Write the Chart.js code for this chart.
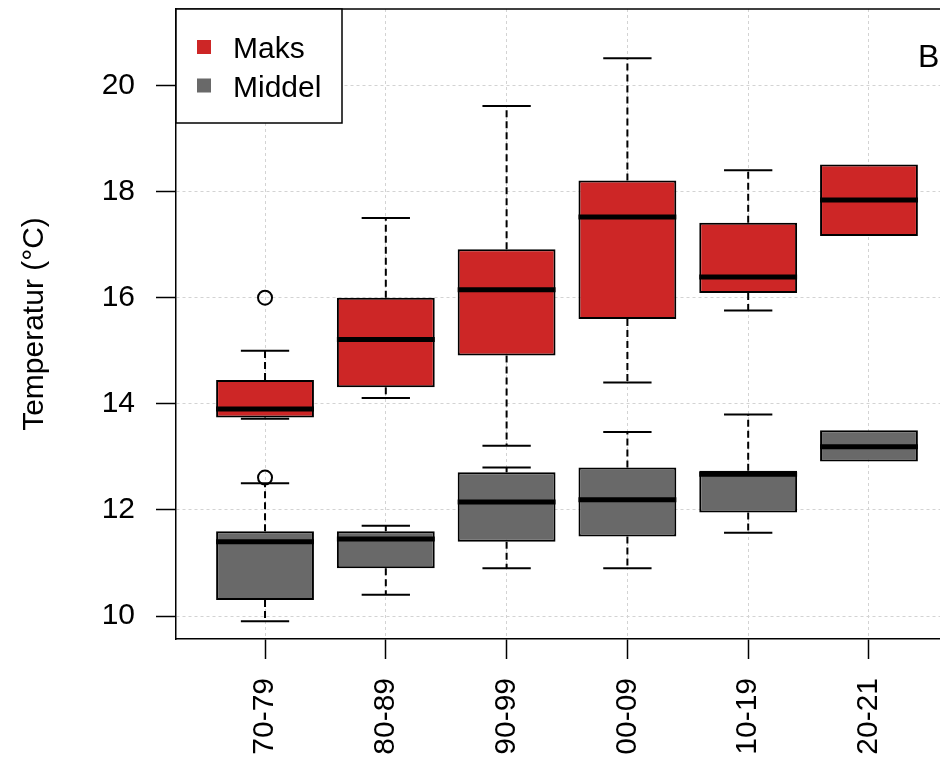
<!DOCTYPE html>
<html>
<head>
<meta charset="utf-8">
<script src="https://cdn.jsdelivr.net/npm/chart.js@4.4.1/dist/chart.umd.min.js"></script>
<style>
  html, body { margin: 0; padding: 0; background: #fff; }
  canvas { display: block; }
</style>
</head>
<body>
<canvas id="chart" width="940" height="761"></canvas>
<script>
const periods = ['70-79', '80-89', '90-99', '00-09', '10-19', '20-21'];

// box stats per period: lower whisker, Q1, median, Q3, upper whisker
const maksLow  = [13.72, 14.11, 13.21, 14.40, 15.76, 17.16];
const maksQ1   = [13.74, 14.31, 14.91, 15.60, 16.09, 17.16];
const maksMed  = [13.90, 15.21, 16.15, 17.52, 16.39, 17.84];
const maksQ3   = [14.45, 16.00, 16.91, 18.21, 17.41, 18.51];
const maksHigh = [15.00, 17.50, 19.61, 20.51, 18.40, 18.51];

const middelLow  = [9.90, 10.40, 10.90, 10.90, 11.57, 12.91];
const middelQ1   = [10.30, 10.90, 11.40, 11.50, 11.95, 12.91];
const middelMed  = [11.40, 11.45, 12.15, 12.19, 12.67, 13.19];
const middelQ3   = [11.60, 11.60, 12.71, 12.80, 12.74, 13.50];
const middelHigh = [12.50, 11.70, 12.80, 13.47, 13.80, 13.50];

// outliers (period index, value)
const outlierPeriod = [0, 0];
const outlierValue  = [16.00, 12.61];

const yTicks = [10, 12, 14, 16, 18, 20];

const RED = '#CD2626';
const GREY = '#696969';
const BOX_WIDTH = 0.81;   // in category units
const CAP_WIDTH = 0.4;

Chart.defaults.font.family = '"Liberation Sans", Arial, Helvetica, sans-serif';
Chart.defaults.font.size = 30;
Chart.defaults.color = '#000';

function boxData(q1, q3) {
    return periods.map((p, i) => ({ x: i + 1, y: [q1[i], q3[i]] }));
}

const series = [
    { label: 'Maks', color: RED, low: maksLow, q1: maksQ1, med: maksMed, q3: maksQ3, high: maksHigh },
    { label: 'Middel', color: GREY, low: middelLow, q1: middelQ1, med: middelMed, q3: middelQ3, high: middelHigh }
];

// whiskers, caps and medians, placed with the chart's scales
const boxExtras = {
    id: 'boxExtras',
    afterDatasetsDraw(chart) {
        const { ctx, scales: { x, y } } = chart;
        ctx.save();
        ctx.strokeStyle = '#000';
        series.forEach(s => {
            periods.forEach((p, i) => {
                const cx = x.getPixelForValue(i + 1);
                const capL = x.getPixelForValue(i + 1 - CAP_WIDTH / 2);
                const capR = x.getPixelForValue(i + 1 + CAP_WIDTH / 2);
                const pairs = [[s.q3[i], s.high[i]], [s.q1[i], s.low[i]]];
                pairs.forEach(([from, to]) => {
                    if (from === to) return;
                    ctx.lineWidth = 2;
                    ctx.setLineDash([7, 4]);
                    ctx.beginPath();
                    ctx.moveTo(cx, y.getPixelForValue(from));
                    ctx.lineTo(cx, y.getPixelForValue(to));
                    ctx.stroke();
                    ctx.setLineDash([]);
                    ctx.beginPath();
                    ctx.moveTo(capL, y.getPixelForValue(to));
                    ctx.lineTo(capR, y.getPixelForValue(to));
                    ctx.stroke();
                });
                // median
                ctx.lineWidth = 5;
                ctx.setLineDash([]);
                ctx.beginPath();
                ctx.moveTo(x.getPixelForValue(i + 1 - BOX_WIDTH / 2), y.getPixelForValue(s.med[i]));
                ctx.lineTo(x.getPixelForValue(i + 1 + BOX_WIDTH / 2), y.getPixelForValue(s.med[i]));
                ctx.stroke();
            });
        });
        ctx.restore();
    }
};

// frame top line, legend box and panel letter
const frameAndLegend = {
    id: 'frameAndLegend',
    afterDraw(chart) {
        const { ctx, chartArea: a } = chart;
        ctx.save();
        ctx.strokeStyle = '#000';
        ctx.lineWidth = 1.5;
        ctx.beginPath();
        ctx.moveTo(a.left, a.top);
        ctx.lineTo(a.right, a.top);
        ctx.stroke();

        // legend
        ctx.fillStyle = '#fff';
        ctx.fillRect(a.left, a.top, 166, 114);
        ctx.strokeRect(a.left, a.top, 166, 114);
        ctx.font = '30px "Liberation Sans", Arial, sans-serif';
        ctx.textBaseline = 'alphabetic';
        series.forEach((s, k) => {
            const cy = a.top + 38 + k * 38.5;
            ctx.fillStyle = s.color;
            ctx.fillRect(a.left + 21, cy - 7, 14, 14);
            ctx.fillStyle = '#000';
            ctx.fillText(s.label, a.left + 57, cy + 11);
        });

        ctx.font = '32px "Liberation Sans", Arial, sans-serif';
        ctx.fillText('B', 918, a.top + 58);
        ctx.restore();
    }
};

new Chart(document.getElementById('chart'), {
    type: 'bar',
    data: {
        datasets: [
            ...series.map(s => ({
                label: s.label,
                data: boxData(s.q1, s.q3),
                backgroundColor: s.color,
                borderColor: '#000',
                borderWidth: 2,
                borderSkipped: false,
                grouped: false,
                categoryPercentage: 1,
                barPercentage: BOX_WIDTH
            })),
            {
                type: 'scatter',
                label: 'outliers',
                data: outlierValue.map((v, k) => ({ x: outlierPeriod[k] + 1, y: v })),
                pointRadius: 7,
                pointHoverRadius: 7,
                borderWidth: 2,
                borderColor: '#000',
                backgroundColor: 'rgba(0,0,0,0)'
            }
        ]
    },
    options: {
        responsive: false,
        animation: false,
        layout: { autoPadding: false, padding: { top: 9, right: 0, left: 0, bottom: 0 } },
        plugins: {
            legend: { display: false },
            tooltip: { enabled: false }
        },
        scales: {
            x: {
                type: 'linear',
                min: 0.263,
                max: 6.588,
                offset: false,
                afterBuildTicks: scale => {
                    scale.ticks = periods.map((p, i) => ({ value: i + 1 }));
                },
                afterFit: scale => {
                    scale.height = 122;
                    scale.paddingLeft = 0;
                    scale.paddingRight = 0;
                },
                ticks: {
                    minRotation: 90,
                    maxRotation: 90,
                    padding: 19,
                    autoSkip: false,
                    callback: v => periods[v - 1]
                },
                grid: {
                    offset: false,
                    color: '#d3d3d3',
                    lineWidth: 1,
                    tickLength: 20,
                    tickColor: '#000',
                    tickWidth: 1.5,
                    tickBorderDash: []
                },
                border: { color: '#000', width: 1.5, dash: [3, 3] }
            },
            y: {
                min: 9.567,
                max: 21.44,
                afterBuildTicks: scale => {
                    scale.ticks = yTicks.map(v => ({ value: v }));
                },
                afterFit: scale => {
                    scale.width = 176;
                    scale.paddingTop = 0;
                    scale.paddingBottom = 0;
                },
                ticks: { padding: 21 },
                grid: {
                    color: '#d3d3d3',
                    lineWidth: 1,
                    tickLength: 20,
                    tickColor: '#000',
                    tickWidth: 1.5,
                    tickBorderDash: []
                },
                border: { color: '#000', width: 1.5, dash: [3, 3] },
                title: {
                    display: true,
                    text: 'Temperatur (°C)',
                    font: { size: 30 },
                    padding: { top: 17, bottom: 0 }
                }
            }
        }
    },
    plugins: [boxExtras, frameAndLegend]
});
</script>
</body>
</html>
